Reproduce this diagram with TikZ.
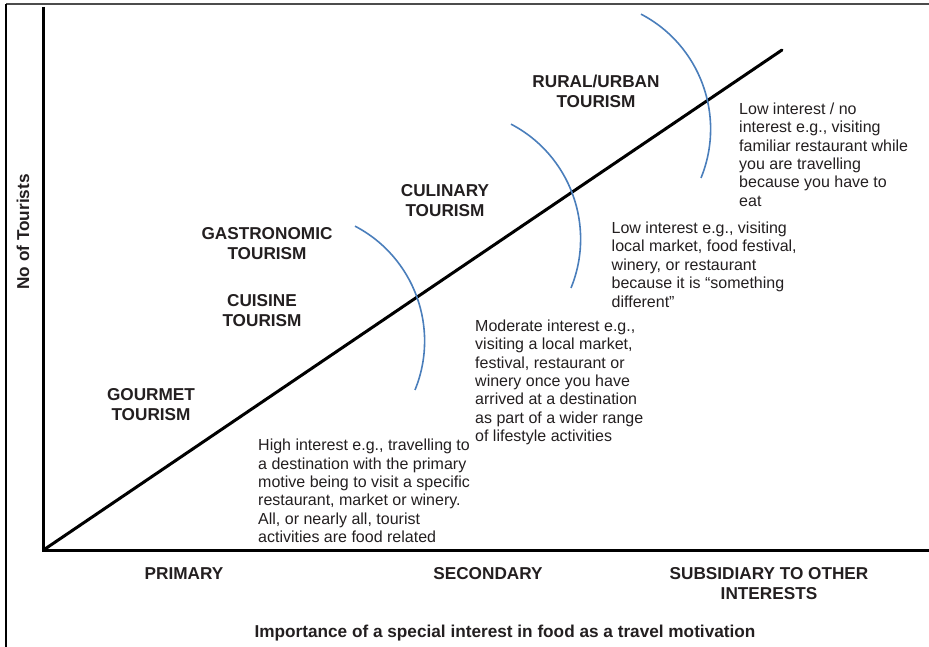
\documentclass[tikz,border=0pt]{standalone}
\usepackage{fontspec}
\setmainfont{Liberation Sans}
\definecolor{ink}{HTML}{231F20}
\definecolor{arcblue}{HTML}{4A7EBB}
\tikzset{
  axis/.style={line width=3bp, black},
  frame/.style={line width=2bp},
  band/.style={line width=1.6bp, arcblue},
  note/.style={anchor=north west, inner sep=0pt, align=left, text=ink,
    font=\fontsize{16bp}{18.4bp}\selectfont},
  tag/.style={anchor=center, inner sep=0pt, align=center, text=ink,
    font=\fontsize{17.2bp}{20bp}\selectfont\bfseries},
}
\begin{document}
\begin{tikzpicture}[x=1bp, y=-1bp]
\useasboundingbox (0,0) rectangle (929,647);
% outer frame (top and left edges)
\coordinate (fTL) at (6,4);
\coordinate (fTR) at (929,4);
\coordinate (fBL) at (6,647);
\draw[frame, black!70] (fTL) -- (fTR);
\draw[frame, black] (fTL) -- (fBL);
% axes
\coordinate (O) at (43.5,550);
\coordinate (ytop) at (43.5,7);
\coordinate (xend) at (929,550);
\coordinate (dEnd) at (782,50);
\draw[axis] (ytop) -- (O) -- (xend);
\draw[axis, line cap=round] (O) -- (dEnd);
% bands separating the kinds of food tourism
\coordinate (c1) at (295,341);
\coordinate (c2) at (451,239);
\coordinate (c3) at (581,129);
\foreach \c in {c1,c2,c3}
  \draw[band] (\c) ++(-62.4:129.6) arc[start angle=-62.4, end angle=22.2, radius=129.6];
% tourism types
\node[tag] (gourmet) at (151,405) {GOURMET\\TOURISM};
\node[tag] (cuisine) at (262,311) {CUISINE\\TOURISM};
\node[tag] (gastro) at (267,244) {GASTRONOMIC\\TOURISM};
\node[tag] (culinary) at (445,201) {CULINARY\\TOURISM};
\node[tag] (rural) at (596,91) {RURAL/URBAN\\TOURISM};
% interest descriptions
\node[note] (high) at (258,439) {High interest e.g., travelling to\\a destination with the primary\\motive being to visit a specific\\restaurant, market or winery.\\All, or nearly all, tourist\\activities are food related};
\node[note] (moderate) at (475,319.5) {Moderate interest e.g.,\\visiting a local market,\\festival, restaurant or\\winery once you have\\arrived at a destination\\as part of a wider range\\of lifestyle activities};
\node[note] (low) at (611.5,221.7) {Low interest e.g., visiting\\local market, food festival,\\winery, or restaurant\\because it is “something\\different”};
\node[note] (lowno) at (739,102.5) {Low interest / no\\interest e.g., visiting\\familiar restaurant while\\you are travelling\\because you have to\\eat};
% axis labels
\node[tag] (primary) at (184,574) {PRIMARY};
\node[tag] (secondary) at (488,574) {SECONDARY};
\node[tag] (subsidiary) at (769,584) {SUBSIDIARY TO OTHER\\INTERESTS};
\node[tag] (xlabel) at (505,633) {Importance of a special interest in food as a travel motivation};
\node[tag, rotate=90] (ylabel) at (23,232) {No of Tourists};
\end{tikzpicture}
\end{document}
